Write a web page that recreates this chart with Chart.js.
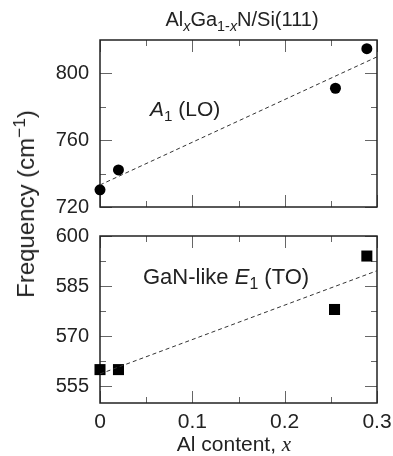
<!DOCTYPE html>
<html>
<head>
<meta charset="utf-8">
<script src="https://cdn.jsdelivr.net/npm/chart.js@4.4.1/dist/chart.umd.min.js"></script>
<style>
  body { margin: 0; background: #fff; font-family: "Liberation Sans", Arial, sans-serif; color: #222; }
  #wrap { position: relative; width: 393px; height: 456px; overflow: hidden; }
  .panel { position: absolute; left: 0; width: 393px; }
  .txt { position: absolute; white-space: nowrap; line-height: 1; transform: translate(-50%, -50%); }
  .lbl { position: absolute; white-space: nowrap; line-height: 1; transform: translateY(-50%); }
  sub, sup { font-size: 72%; line-height: 0; }
</style>
</head>
<body>
<div id="wrap">
  <div class="panel" style="top:0; height:215px;"><canvas id="topChart"></canvas></div>
  <div class="panel" style="top:220px; height:236px;"><canvas id="botChart"></canvas></div>

  <div class="txt" style="left:242px; top:19px; font-size:20px;">Al<sub><i>x</i></sub>Ga<sub>1-<i>x</i></sub>N/Si(111)</div>
  <div class="txt" style="left:26px; top:204px; font-size:24px; transform: translate(-50%, -50%) rotate(-90deg);">Frequency (cm<sup>−1</sup>)</div>
  <div class="txt" style="left:234px; top:444px; font-size:21px;">Al content, <i style="font-family:'Liberation Serif', serif;">x</i></div>
  <div class="lbl" style="left:150px; top:108px; font-size:21px;"><i>A</i><sub>1</sub> (LO)</div>
  <div class="lbl" style="left:143px; top:277px; font-size:22px;">GaN-like <i>E</i><sub>1</sub> (TO)</div>
</div>

<script>
// данные: A1(LO)
const loX = [0, 0.02, 0.255, 0.289];
const loY = [730.3, 742.2, 791.1, 814.8];
const loFitX = [0, 0.3];
const loFitY = [733.2, 809.9];

// данные: GaN-like E1(TO)
const toX = [0, 0.02, 0.254, 0.289];
const toY = [560, 560, 578, 594];
const toFitX = [0, 0.3];
const toFitY = [558.7, 589.6];

// деления осей
const xMajor = [0, 0.1, 0.2, 0.3];
const xMinor = [0.05, 0.15, 0.25];
const loMajor = [720, 760, 800];
const loMinor = [740, 780];
const toMajor = [555, 570, 585, 600];
const toMinor = [562.5, 577.5, 592.5];

function pts(xs, ys) {
    return xs.map((x, i) => ({ x: x, y: ys[i] }));
}

// рамка и внутренние деления на всех четырёх сторонах
const frameTicks = {
    id: 'frameTicks',
    beforeDatasetsDraw(chart, args, opts) {
        const ctx = chart.ctx;
        const a = chart.chartArea;
        const sx = chart.scales.x;
        const sy = chart.scales.y;
        ctx.save();
        ctx.strokeStyle = '#666';
        ctx.lineWidth = 1;
        const drawX = (vals, len) => {
            vals.forEach(v => {
                const p = Math.round(sx.getPixelForValue(v)) + 0.5;
                ctx.beginPath();
                ctx.moveTo(p, a.bottom); ctx.lineTo(p, a.bottom - len);
                ctx.moveTo(p, a.top); ctx.lineTo(p, a.top + len);
                ctx.stroke();
            });
        };
        const drawY = (vals, len) => {
            vals.forEach(v => {
                const p = Math.round(sy.getPixelForValue(v)) + 0.5;
                ctx.beginPath();
                ctx.moveTo(a.left, p); ctx.lineTo(a.left + len, p);
                ctx.moveTo(a.right, p); ctx.lineTo(a.right - len, p);
                ctx.stroke();
            });
        };
        drawX(xMajor, 12);
        drawX(xMinor, 6);
        drawY(opts.yMajor, 12);
        drawY(opts.yMinor, 6);
        ctx.strokeStyle = '#222';
        ctx.lineWidth = 1.5;
        ctx.strokeRect(a.left, a.top, a.right - a.left, a.bottom - a.top);
        ctx.restore();
    }
};

// убираем автоматические отступы под подписи, чтобы область графика задавалась только layout.padding
function noAutoPad(s) {
    s.paddingTop = 0;
    s.paddingBottom = 0;
    s.paddingLeft = 0;
    s.paddingRight = 0;
}

function makeChart(id, cfg) {
    return new Chart(document.getElementById(id).getContext('2d'), {
        type: 'scatter',
        data: {
            datasets: [
                {
                    data: pts(cfg.fitX, cfg.fitY),
                    showLine: true,
                    borderColor: '#333',
                    borderWidth: 1,
                    borderDash: [4, 3],
                    pointRadius: 0,
                    clip: false
                },
                {
                    data: pts(cfg.xs, cfg.ys),
                    pointStyle: cfg.style,
                    pointRadius: cfg.radius,
                    pointHoverRadius: cfg.radius,
                    backgroundColor: '#000',
                    borderColor: '#000',
                    borderWidth: 0,
                    clip: false
                }
            ]
        },
        options: {
            responsive: true,
            maintainAspectRatio: false,
            animation: false,
            events: [],
            layout: { padding: cfg.padding },
            plugins: {
                legend: { display: false },
                tooltip: { enabled: false },
                frameTicks: { yMajor: cfg.yMajor, yMinor: cfg.yMinor }
            },
            scales: {
                x: {
                    type: 'linear',
                    display: cfg.showX,
                    min: 0,
                    max: 0.3,
                    afterBuildTicks: s => { s.ticks = xMajor.map(v => ({ value: v })); },
                    afterFit: s => {
                        noAutoPad(s);
                        s.height = cfg.showX ? 30 : 0;
                    },
                    grid: { display: false, drawTicks: false },
                    border: { display: false },
                    ticks: {
                        padding: 7,
                        color: '#222',
                        font: { family: 'Liberation Sans', size: 21 },
                        callback: v => String(v)
                    }
                },
                y: {
                    type: 'linear',
                    min: cfg.yMin,
                    max: cfg.yMax,
                    afterBuildTicks: s => { s.ticks = cfg.yMajor.map(v => ({ value: v })); },
                    afterFit: s => {
                        noAutoPad(s);
                        s.width = 100;
                    },
                    grid: { display: false, drawTicks: false },
                    border: { display: false },
                    ticks: {
                        padding: 11,
                        color: '#222',
                        font: { family: 'Liberation Sans', size: 20 }
                    }
                }
            }
        },
        plugins: [frameTicks]
    });
}

makeChart('topChart', {
    xs: loX, ys: loY, fitX: loFitX, fitY: loFitY,
    style: 'circle', radius: 5.5,
    yMin: 720, yMax: 820, yMajor: loMajor, yMinor: loMinor,
    showX: false,
    padding: { left: 0, right: 16, top: 40, bottom: 8 }
});

makeChart('botChart', {
    xs: toX, ys: toY, fitX: toFitX, fitY: toFitY,
    style: 'rect', radius: 7.8,
    yMin: 550, yMax: 600, yMajor: toMajor, yMinor: toMinor,
    showX: true,
    padding: { left: 0, right: 16, top: 16, bottom: 23 }
});
</script>
</body>
</html>
